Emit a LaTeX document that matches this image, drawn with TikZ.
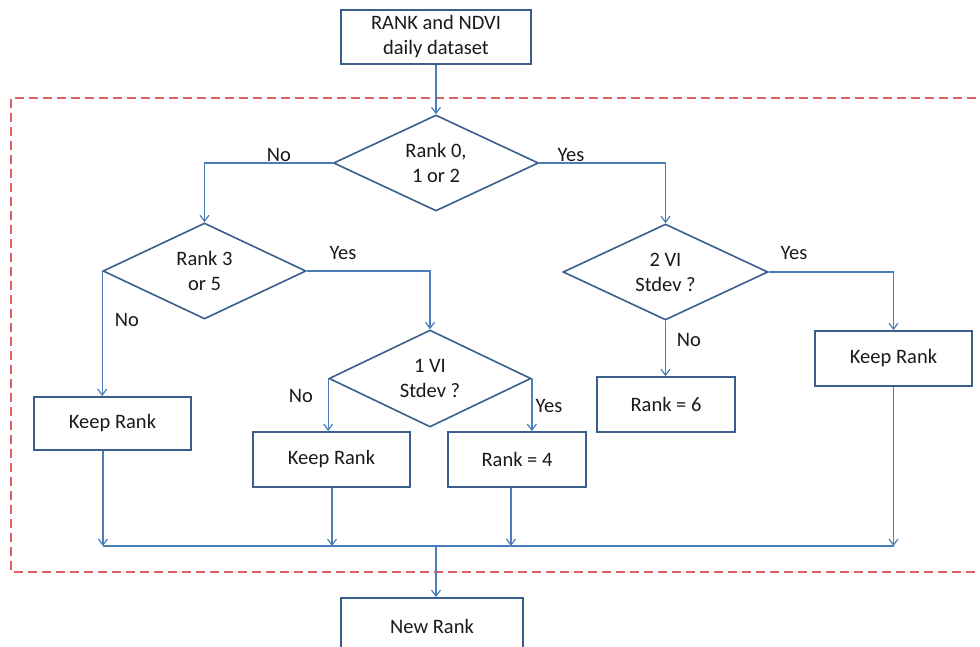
\documentclass[tikz,border=0pt]{standalone}
\usepackage{fontspec}
\setmainfont{Carlito}
\usetikzlibrary{shapes.geometric,arrows.meta,calc}
\definecolor{lineblue}{HTML}{4A7EBB}
\definecolor{boxblue}{HTML}{3A5F8C}
\definecolor{dashred}{HTML}{E06060}
\definecolor{txt}{HTML}{1A1A1A}
\tikzset{
  every node/.style={font=\fontsize{20.5}{25}\selectfont, text=txt},
  stepbox/.style={draw=boxblue, line width=1.8pt, rectangle, inner sep=0pt, align=center},
  decision/.style={draw=boxblue, line width=1.6pt, diamond, inner sep=0pt, shape aspect=2.1, align=center},
  conn/.style={draw=lineblue, line width=1.4pt},
  arr/.style={conn, -{Straight Barb[length=6pt,width=9pt,line width=1.2pt]}},
  lbl/.style={inner sep=0pt},
  region/.style={draw=dashred, line width=1.2pt, dash pattern=on 9pt off 5pt}
}
\begin{document}
\begin{tikzpicture}[x=1pt,y=-1pt]
\useasboundingbox (0,0) rectangle (980,647);
\clip (0,0) rectangle (980,647);
\fill[white] (0,0) rectangle (980,647);
% dashed region
\draw[region] (990,98) -- (11,98) -- (11,572) -- (990,572);
% nodes
\node[stepbox, minimum width=190pt, minimum height=54pt] (top) at (436,37) {RANK and NDVI\\daily dataset};
\node[decision, minimum width=205pt, minimum height=96pt] (d1) at (436,163) {Rank 0,\\1 or 2};
\node[decision, minimum width=203pt, minimum height=96pt] (d2) at (204.5,271) {Rank 3\\or 5};
\node[decision, minimum width=205pt, minimum height=96pt] (d3) at (665.5,272) {2 VI\\Stdev ?};
\node[decision, minimum width=202pt, minimum height=97pt] (d4) at (430,378.5) {1 VI\\Stdev ?};
\node[stepbox, minimum width=157pt, minimum height=53pt] (keep1) at (112.5,423.5) {Keep Rank};
\node[stepbox, minimum width=157pt, minimum height=55pt] (keep2) at (331.5,459.5) {Keep Rank};
\node[stepbox, minimum width=138pt, minimum height=55pt] (rank4) at (517,459.5) {Rank = 4};
\node[stepbox, minimum width=138pt, minimum height=55pt] (rank6) at (666,404.5) {Rank = 6};
\node[stepbox, minimum width=157pt, minimum height=55pt] (keep3) at (893.5,358.5) {Keep Rank};
\node[stepbox, minimum width=182pt, minimum height=56pt] (newrank) at (432,626) {New Rank};
% collector coordinates
\coordinate (busL) at (103,546);
\coordinate (busR) at (893.5,546);
\coordinate (busM) at (436,546);
\coordinate (k2out) at (332,546);
\coordinate (r4out) at (511,546);
% connectors
\draw[arr] (top.south) -- (d1.north);
\draw[arr] (d1.west) -| (d2.north);
\draw[arr] (d1.east) -| (d3.north);
\draw[arr] (d2.west) -- (d2.west |- keep1.north);
\draw[arr] (d2.east) -| (d4.north);
\draw[arr] (d4.west) -- (d4.west |- keep2.north);
\draw[arr] (d4.east) -- (d4.east |- rank4.north);
\draw[arr] (d3.south) -- (d3.south |- rank6.north);
\draw[arr] (d3.east) -| (keep3.north);
\draw[conn] (busL) -- (busR);
\draw[arr] (busL |- keep1.south) -- (busL);
\draw[arr] (k2out |- keep2.south) -- (k2out);
\draw[arr] (r4out |- rank4.south) -- (r4out);
\draw[arr] (keep3.south) -- (busR);
\draw[arr] (busM) -- (newrank.north -| busM);
% labels
\node[lbl] (l1) at (279,155) {No};
\node[lbl] (l2) at (571,155) {Yes};
\node[lbl] (l3) at (343,253) {Yes};
\node[lbl] (l4) at (127,320) {No};
\node[lbl] (l5) at (301,396) {No};
\node[lbl] (l6) at (549,406) {Yes};
\node[lbl] (l7) at (689,340) {No};
\node[lbl] (l8) at (794,253) {Yes};
\end{tikzpicture}
\end{document}
